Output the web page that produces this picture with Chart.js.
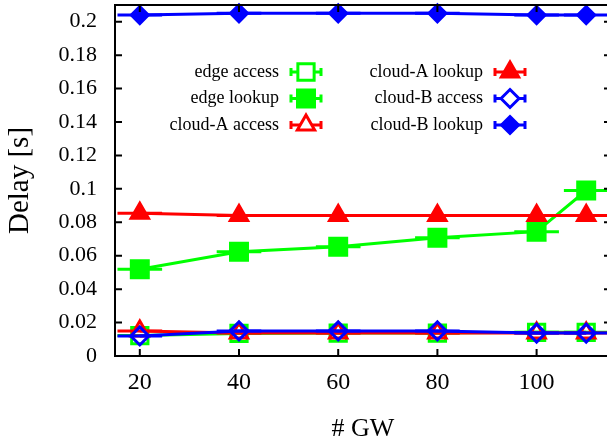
<!DOCTYPE html>
<html>
<head>
<meta charset="utf-8">
<script src="https://cdn.jsdelivr.net/npm/chart.js@4.4.1/dist/chart.umd.min.js"></script>
<style>
html,body{margin:0;padding:0;overflow:hidden;background:#fff;}
#wrap{position:relative;width:611px;height:445px;}
</style>
</head>
<body>
<div id="wrap"><canvas id="c"></canvas></div>
<script>
// ---- data ----
const gwCounts = [20, 40, 60, 80, 100, 110];
const edgeAccess = [0.0122, 0.0135, 0.0137, 0.0137, 0.0142, 0.0142];
const edgeLookup = [0.0519, 0.0624, 0.0654, 0.0708, 0.0744, 0.0990];
const cloudAAccess = [0.0150, 0.0137, 0.0137, 0.0137, 0.0137, 0.0137];
const cloudALookup = [0.0854, 0.0840, 0.0840, 0.0840, 0.0840, 0.0840];
const cloudBAccess = [0.0120, 0.0150, 0.0150, 0.0150, 0.0137, 0.0137];
const cloudBLookup = [0.2040, 0.2050, 0.2050, 0.2050, 0.2040, 0.2040];
const xErr = 4.5;
const seriesNames = ['edge access', 'edge lookup', 'cloud-A access', 'cloud-A lookup', 'cloud-B access', 'cloud-B lookup'];
const xTickValues = [20, 40, 60, 80, 100];
const xTickLabels = ['20', '40', '60', '80', '100'];
const yTickValues = [0, 0.02, 0.04, 0.06, 0.08, 0.1, 0.12, 0.14, 0.16, 0.18, 0.2];
const yTickLabels = ['0', '0.02', '0.04', '0.06', '0.08', '0.1', '0.12', '0.14', '0.16', '0.18', '0.2'];

const GREEN = '#00ff00', RED = '#ff0000', BLUE = '#0000ff';
const FONT = "'Liberation Serif', 'Times New Roman', serif";

function mk(label, vals, color, style, filled, radius, order) {
  return {
    label: label,
    data: gwCounts.map((x, i) => ({x: x, y: vals[i]})),
    borderColor: color,
    backgroundColor: color,
    borderWidth: 3,
    pointStyle: style,
    pointRadius: radius,
    pointBorderWidth: 3,
    pointBorderColor: color,
    pointBackgroundColor: filled ? color : 'rgba(0,0,0,0)',
    tension: 0,
    fill: false,
    clip: false,
    order: order,
    _filled: filled
  };
}

const datasets = [
  mk(seriesNames[0], edgeAccess, GREEN, 'rect', false, 11.5, 2),
  mk(seriesNames[1], edgeLookup, GREEN, 'rect', true, 12, 2),
  mk(seriesNames[2], cloudAAccess, RED, 'triangle', false, 10, 1),
  mk(seriesNames[3], cloudALookup, RED, 'triangle', true, 10, 1),
  mk(seriesNames[4], cloudBAccess, BLUE, 'rectRot', false, 9, 0),
  mk(seriesNames[5], cloudBLookup, BLUE, 'rectRot', true, 8.5, 0)
];

function drawMarker(ctx, style, x, y, r, color, filled) {
  ctx.save();
  ctx.beginPath();
  if (style === 'rect') {
    const s = r * Math.SQRT1_2;
    ctx.rect(x - s, y - s, 2 * s, 2 * s);
  } else if (style === 'triangle') {
    ctx.moveTo(x, y - r);
    ctx.lineTo(x + r * Math.sin(Math.PI / 3), y + r / 2);
    ctx.lineTo(x - r * Math.sin(Math.PI / 3), y + r / 2);
    ctx.closePath();
  } else {
    ctx.moveTo(x, y - r); ctx.lineTo(x + r, y); ctx.lineTo(x, y + r); ctx.lineTo(x - r, y); ctx.closePath();
  }
  ctx.lineWidth = 3;
  ctx.strokeStyle = color;
  if (filled) { ctx.fillStyle = color; ctx.fill(); } else { ctx.fillStyle = '#fff'; ctx.fill(); }
  ctx.stroke();
  ctx.restore();
}

const errBars = {
  id: 'errBars',
  beforeDatasetDraw(chart, args) {
    const ds = chart.data.datasets[args.index];
    const xs = chart.scales.x, ys = chart.scales.y;
    const ctx = chart.ctx;
    ctx.save();
    ctx.strokeStyle = ds.borderColor;
    ctx.lineWidth = 3;
    ds.data.forEach(p => {
      const x0 = xs.getPixelForValue(p.x - xErr), x1 = xs.getPixelForValue(p.x + xErr);
      const y = ys.getPixelForValue(p.y);
      ctx.beginPath(); ctx.moveTo(x0, y); ctx.lineTo(x1, y); ctx.stroke();
    });
    ctx.restore();
  }
};

const frame = {
  id: 'frame',
  afterDraw(chart) {
    const ctx = chart.ctx, a = chart.chartArea;
    const xs = chart.scales.x, ys = chart.scales.y;
    ctx.save();
    ctx.strokeStyle = '#000';
    ctx.lineWidth = 2;
    ctx.strokeRect(a.left, a.top, a.right - a.left, a.bottom - a.top);
    const L = 7;
    yTickValues.forEach(v => {
      const y = ys.getPixelForValue(v);
      ctx.beginPath();
      ctx.moveTo(a.left, y); ctx.lineTo(a.left + L, y);
      ctx.moveTo(a.right, y); ctx.lineTo(a.right - L, y);
      ctx.stroke();
    });
    xTickValues.forEach(v => {
      const x = xs.getPixelForValue(v);
      ctx.beginPath();
      ctx.moveTo(x, a.bottom); ctx.lineTo(x, a.bottom - L);
      ctx.moveTo(x, a.top); ctx.lineTo(x, a.top + L);
      ctx.stroke();
    });
    // legend
    ctx.font = '18px ' + FONT;
    ctx.fillStyle = '#000';
    ctx.textAlign = 'right';
    ctx.textBaseline = 'middle';
    const colX = [279, 483];
    const rowY = [72, 98.5, 125];
    chart.data.datasets.forEach((ds, i) => {
      const col = i < 3 ? 0 : 1, row = i % 3;
      const tx = colX[col], ty = rowY[row];
      ctx.fillText(ds.label, tx, ty);
      const sx0 = tx + 11, sx1 = tx + 43;
      ctx.strokeStyle = ds.borderColor;
      ctx.lineWidth = 3;
      ctx.beginPath();
      ctx.moveTo(sx0, ty); ctx.lineTo(sx1, ty);
      ctx.moveTo(sx0 + 1, ty - 4); ctx.lineTo(sx0 + 1, ty + 4);
      ctx.moveTo(sx1 - 1, ty - 4); ctx.lineTo(sx1 - 1, ty + 4);
      ctx.stroke();
      drawMarker(ctx, ds.pointStyle, (sx0 + sx1) / 2, ty, ds.pointRadius, ds.borderColor, ds._filled);
    });
    ctx.restore();
  }
};

new Chart(document.getElementById('c'), {
  type: 'line',
  data: {datasets: datasets},
  options: {
    responsive: true,
    maintainAspectRatio: false,
    animation: false,
    layout: {autoPadding: false, padding: {top: 5, left: 0, right: 0, bottom: 0}},
    plugins: {legend: {display: false}, tooltip: {enabled: false}},
    scales: {
      x: {
        type: 'linear', min: 15, max: 115,
        afterFit(s) { s.height = 89; s.paddingLeft = 0; s.paddingRight = 0; },
        afterBuildTicks(s) { s.ticks = xTickValues.map(v => ({value: v})); },
        grid: {display: false, drawTicks: false},
        border: {display: false},
        ticks: {
          color: '#000', font: {family: FONT, size: 24}, padding: 12, maxRotation: 0,
          callback: (v) => { const i = xTickValues.indexOf(v); return i >= 0 ? xTickLabels[i] : ''; }
        },
        title: {display: true, text: '# GW', color: '#000', font: {family: FONT, size: 26}, padding: {top: 0, bottom: 0}}
      },
      y: {
        type: 'linear', min: 0, max: 0.21,
        afterFit(s) { s.width = 115; s.paddingTop = 0; s.paddingBottom = 0; },
        afterBuildTicks(s) { s.ticks = yTickValues.map(v => ({value: v})); },
        grid: {display: false, drawTicks: false},
        border: {display: false},
        ticks: {
          color: '#000', font: {family: FONT, size: 22}, padding: 18,
          callback: (v) => { const i = yTickValues.findIndex(t => Math.abs(t - v) < 1e-9); return i >= 0 ? yTickLabels[i] : ''; }
        },
        title: {display: true, text: 'Delay [s]', color: '#000', font: {family: FONT, size: 29}, padding: {top: 3, bottom: 4}}
      }
    }
  },
  plugins: [errBars, frame]
});
</script>
</body>
</html>
